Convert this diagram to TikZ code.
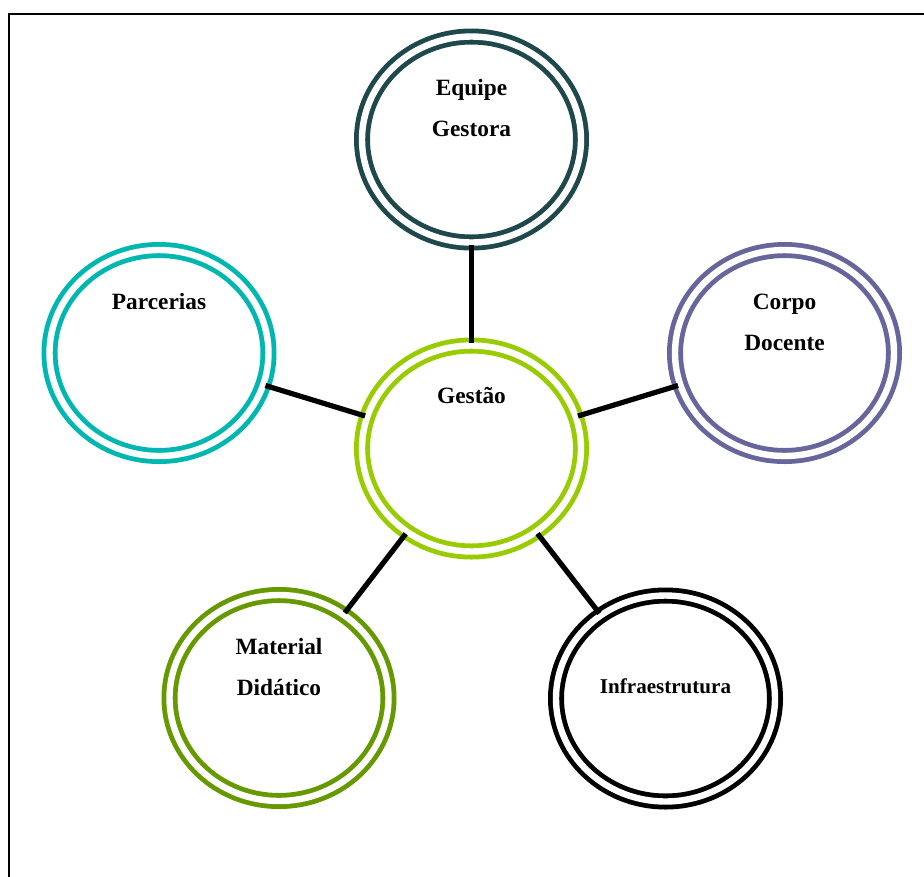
\documentclass[tikz,border=0pt]{standalone}
\usepackage{fontspec}
\setmainfont{Liberation Serif}
\usetikzlibrary{shapes.geometric}

\definecolor{cEquipe}{RGB}{30,72,76}
\definecolor{cGestao}{RGB}{153,204,0}
\definecolor{cParc}{RGB}{0,182,176}
\definecolor{cCorpo}{RGB}{102,102,156}
\definecolor{cMat}{RGB}{102,153,0}
\definecolor{cInfra}{RGB}{0,0,0}

\tikzset{
  ring/.style={ellipse, inner sep=0pt, minimum width=164.25pt, minimum height=154.5pt,
    draw=#1, line width=3.6pt, double=white, double distance=4.8pt},
  label/.style={anchor=base, align=center, inner sep=0pt,
    font=\fontsize{17.5}{30.75}\selectfont\bfseries},
  smalllabel/.style={label, font=\fontsize{15.8}{30.75}\selectfont\bfseries},
  link/.style={draw=black, line width=3.9pt},
  frame/.style={draw=black, line width=1.6pt}
}

\begin{document}
\begin{tikzpicture}[x=0.75pt,y=-0.75pt]
  \useasboundingbox (0,0) rectangle (924,876);

  % open frame: top and left edges
  \coordinate (fTL) at (9,14);
  \coordinate (fTR) at (930,14);
  \coordinate (fBL) at (9,880);
  \draw[frame] (fTR) -- (fTL) -- (fBL);

  % rings
  \node[ring=cGestao] (gestao) at (471.5,448.5) {};
  \node[ring=cEquipe] (equipe) at (471.5,139.5) {};
  \node[ring=cParc]   (parc)   at (159,353) {};
  \node[ring=cCorpo]  (corpo)  at (784.5,353) {};
  \node[ring=cMat]    (mat)    at (279,698) {};
  \node[ring=cInfra]  (infra)  at (665.5,698.5) {};

  % labels (base = baseline of the last line)
  \node[label] (tGestao) at (471.5,403) {Gestão};
  \node[label] (tEquipe) at (471.5,136.5) {Equipe\\Gestora};
  \node[label] (tParc)   at (159,309.5) {Parcerias};
  \node[label] (tCorpo)  at (784.5,350) {Corpo\\Docente};
  \node[label] (tMat)    at (279,695) {Material\\Didático};
  \node[smalllabel] (tInfra) at (665.5,693) {Infraestrutura};

  % connectors from the centre
  \draw[link] (gestao) -- (equipe);
  \draw[link] (gestao) -- (parc);
  \draw[link] (gestao) -- (corpo);
  \draw[link] (gestao) -- (mat);
  \draw[link] (gestao) -- (infra);
\end{tikzpicture}
\end{document}
